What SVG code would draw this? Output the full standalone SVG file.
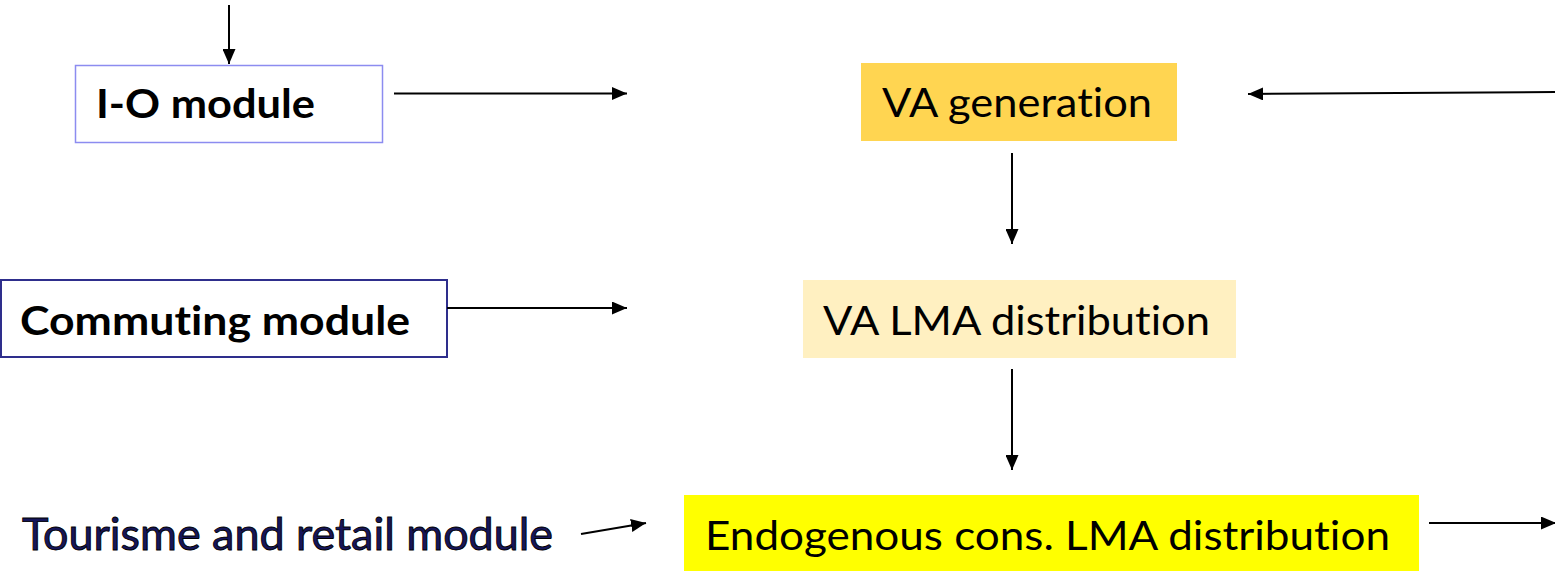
<svg xmlns="http://www.w3.org/2000/svg" width="1555" height="571" viewBox="0 0 1555 571">
<style>
.lbl{font-family:Lato,"Liberation Sans",sans-serif;font-size:40px;fill:#000;font-variant-ligatures:none}
.b{font-weight:bold}
.conn{stroke:#000;stroke-width:2;fill:none;marker-end:url(#ah)}
</style>
<defs>
<marker id="ah" markerUnits="userSpaceOnUse" markerWidth="15" markerHeight="13" refX="15" refY="6.5" orient="auto">
<path d="M0,0 L15,6.5 L0,13 z" fill="#000"/>
</marker>
</defs>
<rect width="1555" height="571" fill="#fff"/>
<g id="io-module">
<rect x="75.5" y="65.5" width="307" height="77" fill="#fff" stroke="#8c8cf0" stroke-width="1.5"/>
<text class="lbl b" x="96" y="118" textLength="219" lengthAdjust="spacingAndGlyphs">I-O module</text>
</g>
<g id="va-generation">
<rect x="861" y="63" width="316" height="78" fill="#ffd551"/>
<text class="lbl" x="882" y="117" textLength="270" lengthAdjust="spacingAndGlyphs">VA generation</text>
</g>
<g id="commuting-module">
<rect x="1" y="280" width="446" height="77" fill="#fff" stroke="#2e2e8c" stroke-width="2"/>
<text class="lbl b" x="20" y="335" textLength="390" lengthAdjust="spacingAndGlyphs">Commuting module</text>
</g>
<g id="va-lma">
<rect x="803" y="280" width="433" height="78" fill="#fff0c1"/>
<text class="lbl" x="823" y="335" textLength="387" lengthAdjust="spacingAndGlyphs">VA LMA distribution</text>
</g>
<g id="tourisme">
<text class="lbl" x="22" y="550" textLength="531" lengthAdjust="spacingAndGlyphs" style="font-size:44px;fill:#16165a;stroke:#000;stroke-width:0.9">Tourisme and retail module</text>
</g>
<g id="endogenous">
<rect x="684" y="495" width="735" height="76" fill="#ffff00"/>
<text class="lbl" x="705" y="550" textLength="685" lengthAdjust="spacingAndGlyphs">Endogenous cons. LMA distribution</text>
</g>
<g id="connectors">
<line class="conn" x1="229" y1="5" x2="229" y2="64"/>
<line class="conn" x1="394" y1="93.5" x2="627" y2="93.5"/>
<line class="conn" x1="1555" y1="92" x2="1248" y2="94"/>
<line class="conn" x1="1012" y1="153" x2="1012" y2="244"/>
<line class="conn" x1="447" y1="308" x2="627" y2="308"/>
<line class="conn" x1="1012" y1="369" x2="1012" y2="470"/>
<line class="conn" x1="581" y1="534" x2="646" y2="523"/>
<line class="conn" x1="1429" y1="523" x2="1556" y2="523"/>
</g>
</svg>
